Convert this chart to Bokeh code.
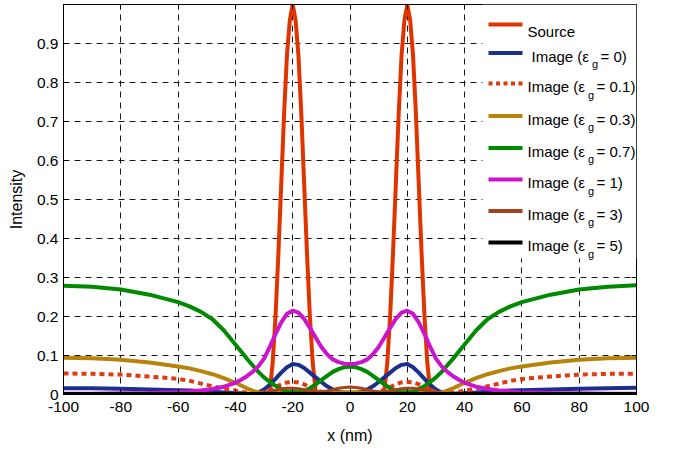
from bokeh.plotting import figure
from bokeh.models import Range1d, FixedTicker, LinearAxis, BoxAnnotation, Label
from bokeh.embed import file_html
from bokeh.resources import INLINE

# ---------------- data ----------------
x_nm = [-100, -90, -80, -70, -60, -56, -52, -48, -44, -40, -38, -36, -34, -32, -30, -28, -26,
        -24, -22, -20, -18, -16, -14, -12, -10, -8, -6, -4, -2, 0,
        2, 4, 6, 8, 10, 12, 14, 16, 18, 20, 22, 24, 26, 28, 30, 32, 34, 36, 38, 40,
        44, 48, 52, 56, 60, 70, 80, 90, 100]

source_x = [-100, -30, -29, -28, -27, -26, -25, -24, -23, -22, -21, -20, -19, -18, -17, -16,
            -15, -14, -13, -12, -11, -10,
            10, 11, 12, 13, 14, 15, 16, 17, 18, 19, 20, 21, 22, 23, 24, 25, 26, 27, 28, 29, 30, 100]
source_y = [0.0, 0.0, 0.0, 0.01, 0.08, 0.20, 0.36, 0.54, 0.72, 0.87, 0.96, 1.0, 0.96, 0.87, 0.72,
            0.54, 0.36, 0.20, 0.08, 0.01, 0.0, 0.0,
            0.0, 0.0, 0.01, 0.08, 0.20, 0.36, 0.54, 0.72, 0.87, 0.96, 1.0, 0.96, 0.87, 0.72, 0.54,
            0.36, 0.20, 0.08, 0.01, 0.0, 0.0, 0.0]

img_eps_0 = [0.016, 0.016, 0.015, 0.013, 0.011, 0.010, 0.009, 0.007, 0.005, 0.004, 0.003, 0.002,
             0.002, 0.005, 0.013, 0.025, 0.040, 0.056, 0.070, 0.078, 0.076, 0.068, 0.056, 0.044,
             0.032, 0.021, 0.013, 0.007, 0.004, 0.003,
             0.004, 0.007, 0.013, 0.021, 0.032, 0.044, 0.056, 0.068, 0.076, 0.078, 0.070, 0.056,
             0.040, 0.025, 0.013, 0.005, 0.002, 0.002, 0.003, 0.004, 0.005, 0.007, 0.009, 0.010,
             0.011, 0.013, 0.015, 0.016, 0.017]

img_eps_01 = [0.054, 0.053, 0.051, 0.046, 0.040, 0.035, 0.028, 0.021, 0.015, 0.010, 0.007, 0.005,
              0.003, 0.003, 0.006, 0.012, 0.019, 0.026, 0.031, 0.032, 0.031, 0.026, 0.019, 0.012,
              0.007, 0.004, 0.002, 0.001, 0.001, 0.001,
              0.001, 0.001, 0.002, 0.004, 0.007, 0.012, 0.019, 0.026, 0.031, 0.032, 0.031, 0.026,
              0.019, 0.012, 0.006, 0.003, 0.003, 0.005, 0.007, 0.010, 0.015, 0.021, 0.028, 0.035,
              0.040, 0.046, 0.051, 0.053, 0.053]

img_eps_03 = [0.094, 0.093, 0.089, 0.082, 0.072, 0.067, 0.060, 0.052, 0.042, 0.030, 0.023, 0.016,
              0.010, 0.005, 0.003, 0.003, 0.004, 0.006, 0.007, 0.007, 0.006, 0.005, 0.003, 0.002,
              0.002, 0.003, 0.004, 0.005, 0.006, 0.006,
              0.006, 0.005, 0.004, 0.003, 0.002, 0.002, 0.003, 0.005, 0.006, 0.007, 0.007, 0.006,
              0.004, 0.003, 0.003, 0.005, 0.010, 0.016, 0.023, 0.030, 0.042, 0.052, 0.060, 0.067,
              0.072, 0.082, 0.089, 0.093, 0.094]

img_eps_07 = [0.279, 0.276, 0.269, 0.256, 0.237, 0.226, 0.212, 0.193, 0.164, 0.128, 0.110, 0.092,
              0.075, 0.058, 0.044, 0.032, 0.022, 0.014, 0.008, 0.005, 0.005, 0.009, 0.016, 0.026,
              0.037, 0.048, 0.058, 0.065, 0.070, 0.072,
              0.070, 0.065, 0.058, 0.048, 0.037, 0.026, 0.016, 0.009, 0.005, 0.005, 0.008, 0.014,
              0.022, 0.032, 0.044, 0.058, 0.075, 0.092, 0.110, 0.128, 0.164, 0.193, 0.212, 0.226,
              0.237, 0.256, 0.269, 0.276, 0.280]

img_eps_1 = [0.002, 0.002, 0.003, 0.004, 0.006, 0.008, 0.010, 0.014, 0.020, 0.030, 0.038, 0.047,
             0.058, 0.072, 0.092, 0.122, 0.155, 0.185, 0.207, 0.215, 0.210, 0.194, 0.171, 0.146,
             0.122, 0.103, 0.090, 0.083, 0.079, 0.078,
             0.079, 0.083, 0.090, 0.103, 0.122, 0.146, 0.171, 0.194, 0.210, 0.215, 0.207, 0.185,
             0.155, 0.122, 0.092, 0.072, 0.058, 0.047, 0.038, 0.030, 0.020, 0.014, 0.010, 0.008,
             0.006, 0.004, 0.003, 0.002, 0.002]

img_eps_3 = [0.000, 0.000, 0.000, 0.000, 0.001, 0.001, 0.001, 0.001, 0.001, 0.001, 0.001, 0.001,
             0.002, 0.003, 0.005, 0.008, 0.011, 0.014, 0.016, 0.016, 0.015, 0.012, 0.009, 0.007,
             0.007, 0.009, 0.012, 0.016, 0.018, 0.019,
             0.018, 0.016, 0.012, 0.009, 0.007, 0.007, 0.009, 0.012, 0.015, 0.016, 0.016, 0.014,
             0.011, 0.008, 0.005, 0.003, 0.002, 0.001, 0.001, 0.001, 0.001, 0.001, 0.001, 0.001,
             0.001, 0.000, 0.000, 0.000, 0.000]

img_eps_5 = [0.0, 0.0, 0.0, 0.0, 0.0, 0.0, 0.0, 0.0, 0.0, 0.0, 0.0, 0.0, 0.0, 0.0, 0.0, 0.0,
             0.0, 0.0, 0.0, 0.0, 0.0, 0.0, 0.0, 0.0, 0.0, 0.0, 0.0, 0.0, 0.0, 0.0,
             0.0, 0.0, 0.0, 0.0, 0.0, 0.0, 0.0, 0.0, 0.0, 0.0, 0.0, 0.0, 0.0, 0.0, 0.0, 0.0,
             0.0, 0.0, 0.0, 0.0, 0.0, 0.0, 0.0, 0.0, 0.0, 0.0, 0.0, 0.0, 0.0]

x_ticks = [-100, -80, -60, -40, -20, 0, 20, 40, 60, 80, 100]
x_tick_labels = ["-100", "-80", "-60", "-40", "-20", "0", "20", "40", "60", "80", "100"]
y_ticks = [0, 0.1, 0.2, 0.3, 0.4, 0.5, 0.6, 0.7, 0.8, 0.9]
y_tick_labels = ["0", "0.1", "0.2", "0.3", "0.4", "0.5", "0.6", "0.7", "0.8", "0.9"]

series_names = ["Source", "Image (ε", "Image (ε", "Image (ε", "Image (ε", "Image (ε", "Image (ε", "Image (ε"]
eps_labels = ["", "= 0)", "= 0.1)", "= 0.3)", "= 0.7)", "= 1)", "= 3)", "= 5)"]
colors = ["#DF3300", "#1B2F8F", "#E03A10", "#B8830C", "#008A00", "#CC14CC", "#A3421C", "#000000"]

FONT = "Liberation Sans"

# ---------------- figure ----------------
p = figure(width=676, height=453, output_backend="svg", toolbar_location=None,
           x_range=Range1d(-100, 100), y_range=Range1d(0, 1.0),
           min_border_left=63, min_border_right=40, min_border_top=4, min_border_bottom=59)
p.background_fill_color = "white"
p.border_fill_color = "white"
p.outline_line_color = "black"
p.outline_line_width = 1
p.outline_line_alpha = 1

# grid
for g, t in ((p.xgrid, x_ticks), (p.ygrid, y_ticks)):
    g.ticker = FixedTicker(ticks=t)
    g.grid_line_color = "black"
    g.grid_line_alpha = 0.9
    g.grid_line_dash = "6 5"
    g.grid_line_width = 1

# axes
xa = p.xaxis[0]
xa.ticker = FixedTicker(ticks=x_ticks)
xa.major_label_overrides = dict(zip(x_ticks, x_tick_labels))
xa.axis_label = "x (nm)"
xa.major_label_standoff = 7
xa.axis_label_standoff = 12

ya = p.yaxis[0]
ya.ticker = FixedTicker(ticks=y_ticks)
ya.major_label_overrides = dict(zip(y_ticks, y_tick_labels))
ya.axis_label = "Intensity"
ya.major_label_standoff = 5
ya.axis_label_standoff = 9

for ax in (xa, ya):
    ax.major_label_text_font = FONT
    ax.major_label_text_font_size = "15.5px"
    ax.major_label_text_color = "black"
    ax.axis_label_text_font = FONT
    ax.axis_label_text_font_size = "16px"
    ax.axis_label_text_font_style = "normal"
    ax.axis_label_text_color = "black"
    ax.major_tick_in = 5
    ax.major_tick_out = 0
    ax.minor_tick_line_color = None
    ax.axis_line_color = "black"
    ax.major_tick_line_color = "black"

# box-style ticks on top and right
ra = LinearAxis(ticker=FixedTicker(ticks=y_ticks), major_label_text_font_size="0px",
                major_label_text_color=None, major_label_standoff=0,
                major_tick_in=5, major_tick_out=0, minor_tick_line_color=None,
                axis_line_color="black", major_tick_line_color="black")
p.add_layout(ra, "right")
ta = LinearAxis(ticker=FixedTicker(ticks=x_ticks), major_label_text_font_size="0px",
                major_label_text_color=None, major_label_standoff=0,
                major_tick_in=5, major_tick_out=0, minor_tick_line_color=None,
                axis_line_color="black", major_tick_line_color="black")
p.add_layout(ta, "above")

# ---------------- curves ----------------
p.line(source_x, source_y, line_color=colors[0], line_width=4)
p.line(x_nm, img_eps_0, line_color=colors[1], line_width=4)
p.line(x_nm, img_eps_01, line_color=colors[2], line_width=4, line_dash="5 4", line_cap="butt")
p.line(x_nm, img_eps_03, line_color=colors[3], line_width=4)
p.line(x_nm, img_eps_07, line_color=colors[4], line_width=4)
p.line(x_nm, img_eps_1, line_color=colors[5], line_width=4)
p.line(x_nm, img_eps_3, line_color=colors[6], line_width=3)
p.line(x_nm, img_eps_5, line_color=colors[7], line_width=5)

# ---------------- legend (custom, to allow subscript g) ----------------
FRAME_L, FRAME_B = 63, 394  # frame left / bottom in page pixels


def fx(px):
    return px - FRAME_L


def fy(py):
    return FRAME_B - py


p.add_layout(BoxAnnotation(left=fx(482), right=fx(636), top=fy(4), bottom=fy(258),
                           left_units="screen", right_units="screen",
                           top_units="screen", bottom_units="screen",
                           fill_color="white", fill_alpha=1.0, line_alpha=0, level="annotation"))

entry_y = [24, 52.5, 83, 115.5, 147.5, 179, 210.5, 242]
text_shift = [0, 4, 0, 0, 0, 0, 0, 0]
W_MAIN = 57.5   # width of "Image (ε" at 15px Liberation Sans
W_SUB = 6.1     # width of "g" at 11px

for i, ly in enumerate(entry_y):
    col = colors[i]
    if i == 2:
        for k in range(5):
            x0 = 488 + k * 7.5
            p.add_layout(BoxAnnotation(left=fx(x0), right=fx(x0 + 4), top=fy(ly - 2), bottom=fy(ly + 2),
                                       left_units="screen", right_units="screen",
                                       top_units="screen", bottom_units="screen",
                                       fill_color=col, fill_alpha=1.0, line_alpha=0))
    else:
        p.add_layout(BoxAnnotation(left=fx(488), right=fx(522), top=fy(ly - 2), bottom=fy(ly + 2),
                                   left_units="screen", right_units="screen",
                                   top_units="screen", bottom_units="screen",
                                   fill_color=col, fill_alpha=1.0, line_alpha=0))
    tx = 527 + text_shift[i]
    if i == 0:
        p.add_layout(Label(x=fx(tx), y=fy(ly + 6.5), x_units="screen", y_units="screen",
                           text=series_names[i], text_font=FONT, text_font_size="15px",
                           text_baseline="alphabetic", text_align="left", text_color="black"))
    else:
        p.add_layout(Label(x=fx(tx), y=fy(ly + 3), x_units="screen", y_units="screen",
                           text=series_names[i], text_font=FONT, text_font_size="15px",
                           text_baseline="alphabetic", text_align="left", text_color="black"))
        gx = tx + W_MAIN + 3
        p.add_layout(Label(x=fx(gx), y=fy(ly + 11), x_units="screen", y_units="screen",
                           text="g", text_font=FONT, text_font_size="11px",
                           text_baseline="alphabetic", text_align="left", text_color="black"))
        p.add_layout(Label(x=fx(gx + W_SUB + 2.5), y=fy(ly + 3), x_units="screen", y_units="screen",
                           text=eps_labels[i], text_font=FONT, text_font_size="15px",
                           text_baseline="alphabetic", text_align="left", text_color="black"))

open("out.html", "w").write(file_html(p, INLINE))
